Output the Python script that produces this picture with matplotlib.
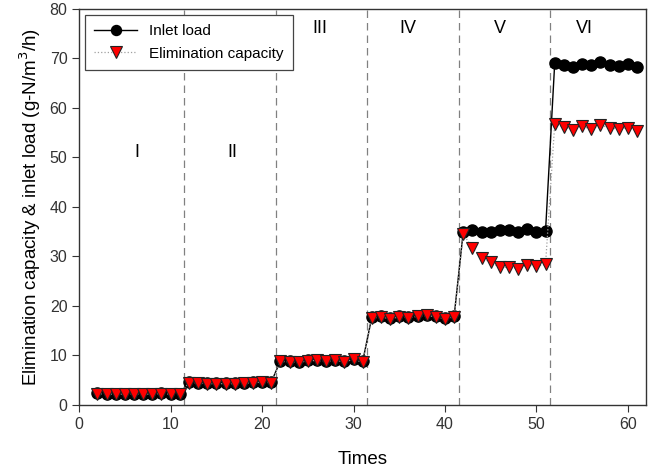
import matplotlib
matplotlib.use("Agg")
import matplotlib.pyplot as plt

# ── Data ───────────────────────────────────────────────────────────────

times = list(range(2, 62))

inlet_load = [
    2.4, 2.3, 2.3, 2.3, 2.3, 2.3, 2.3, 2.4, 2.3, 2.3,             # I
    4.6, 4.5, 4.4, 4.4, 4.4, 4.4, 4.5, 4.6, 4.7, 4.6,             # II
    8.9, 8.8, 8.7, 9.0, 9.1, 8.9, 9.1, 8.8, 9.3, 8.8,             # III
    17.7, 17.9, 17.6, 17.9, 17.7, 18.0, 18.2, 17.9, 17.6, 17.9,   # IV
    35.0, 35.3, 35.0, 35.0, 35.4, 35.3, 35.0, 35.6, 34.9, 35.2,   # V
    69.0, 68.6, 68.2, 68.8, 68.7, 69.3, 68.6, 68.4, 68.9, 68.2,   # VI
]

elimination_capacity = [
    2.3, 2.2, 2.2, 2.2, 2.2, 2.2, 2.2, 2.3, 2.2, 2.2,
    4.5, 4.4, 4.3, 4.3, 4.3, 4.3, 4.4, 4.5, 4.6, 4.5,
    8.8, 8.7, 8.6, 8.9, 9.0, 8.8, 9.0, 8.7, 9.2, 8.6,
    17.5, 17.8, 17.4, 17.8, 17.6, 17.9, 18.1, 17.8, 17.4, 17.8,
    34.5, 31.8, 29.7, 28.8, 27.8, 27.8, 27.5, 28.3, 28.0, 28.4,
    56.7, 56.1, 55.6, 56.3, 55.7, 56.6, 55.9, 55.8, 56.0, 55.4,
]

phase_bounds = [11.5, 21.5, 31.5, 41.5, 51.5]
phase_names = ["I", "II", "III", "IV", "V", "VI"]
phase_label_x = [6.3, 16.7, 26.3, 35.9, 46.0, 55.3]
phase_label_y = [51, 51, 76, 76, 76, 76]

# ── Plot ───────────────────────────────────────────────────────────────

plt.rcParams["font.family"] = ["Liberation Sans", "DejaVu Sans"]

fig = plt.figure(figsize=(6.6, 4.72), dpi=100)
ax = fig.add_axes([0.12, 0.142, 0.859, 0.839])

for xb in phase_bounds:
    ax.axvline(xb, color="#808080", linestyle=(0, (6, 4)), linewidth=0.9, zorder=1)

ax.plot(times, inlet_load, color="black", linewidth=1.0, marker="o",
        markersize=8, markerfacecolor="black", markeredgecolor="black",
        label="Inlet load", zorder=3)
ax.plot(times, elimination_capacity, color="#a0a0a0", linestyle=":", linewidth=0.9,
        marker="v", markersize=9, markerfacecolor="#ff0000",
        markeredgecolor="#222222", markeredgewidth=0.8,
        label="Elimination capacity", zorder=4)

for name, x, y in zip(phase_names, phase_label_x, phase_label_y):
    ax.text(x, y, name, fontsize=13, ha="center", va="center")

ax.set_xlim(0, 62)
ax.set_ylim(0, 80)
ax.set_xticks(range(0, 61, 10))
ax.set_yticks(range(0, 81, 10))
ax.tick_params(direction="out", length=5, labelsize=11.5, colors="#333333",
               labelcolor="#333333")
for side in ax.spines.values():
    side.set_color("#333333")
    side.set_linewidth(1.0)

ax.set_xlabel("Times", fontsize=13.5, labelpad=14)
ax.set_ylabel("Elimination capacity & inlet load (g-N/m$^3$/h)", fontsize=13.5, labelpad=5)

leg = ax.legend(loc="upper left", fontsize=11, fancybox=False, framealpha=1,
                edgecolor="#444444", borderpad=0.6, handlelength=2.8,
                borderaxespad=0.4, labelspacing=0.55, markerscale=0.9)
leg.get_frame().set_linewidth(0.9)

fig.savefig("out.png", dpi=100)
